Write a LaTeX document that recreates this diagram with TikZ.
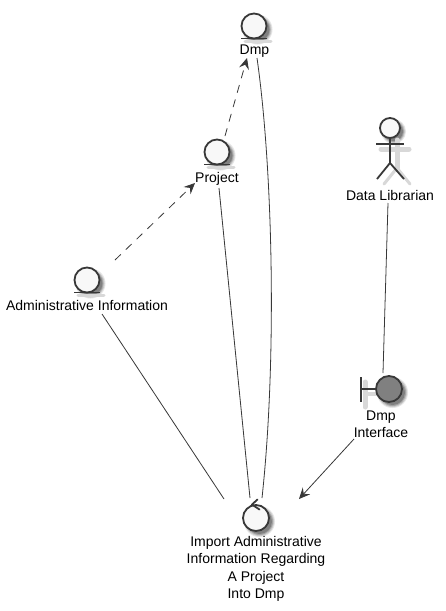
\documentclass[tikz,border=0pt]{standalone}
\usepackage{fontspec}
\setmainfont{Liberation Sans}
\usetikzlibrary{arrows.meta}
\definecolor{ink}{HTML}{383838}
\definecolor{paper}{HTML}{F8F8F8}
\definecolor{bluntgray}{HTML}{808080}
\definecolor{sha}{HTML}{E6E6E6}
\definecolor{shb}{HTML}{C8C8C8}
\definecolor{shc}{HTML}{A4A4A4}
\definecolor{shd}{HTML}{808080}
\definecolor{shl}{HTML}{D8D8D8}
\tikzset{
  x=1pt,y=-1pt,
  lbl/.style={font=\fontsize{14}{17.3}\selectfont,align=center,inner sep=0pt,text=black},
  icon/.style={draw=ink,line width=1.8pt,fill=paper,circle,inner sep=0pt},
  bar/.style={draw=ink,line width=1.8pt},
  link/.style={draw=ink,line width=.8pt},
  dep/.style={link,dash pattern=on 8pt off 7pt},
  tip/.style={-{Stealth[length=11pt,width=10pt,inset=4pt,color=ink]}},
  softa/.style={line cap=round,draw=shl},
  softd/.style={circle,inner sep=0pt,draw=none},
}
% #1 name, #2 x, #3 y, #4 diameter of the icon
\newcommand{\softdisc}[4]{%
  \node[softd,fill=sha,minimum size=#4+5pt] (#1sa) at (#2+3.5,#3+3.5) {};
  \node[softd,fill=shb,minimum size=#4+3pt] (#1sb) at (#2+3.5,#3+3.5) {};
  \node[softd,fill=shc,minimum size=#4+1pt] (#1sc) at (#2+3.5,#3+3.5) {};
  \node[softd,fill=shd,minimum size=#4-1pt] (#1sd) at (#2+3.5,#3+3.5) {};
}
\newcommand{\entityicon}[3]{% name, x, y (centre)
  \softdisc{#1}{#2}{#3}{25pt}
  \draw[softa,line width=3pt] (#2-9,#3+15) -- (#2+17,#3+15);
  \node[icon,minimum size=25pt] (#1) at (#2,#3) {};
  \draw[bar] (#2-13,#3+12.5) -- (#2+13,#3+12.5);
}
\begin{document}
\begin{tikzpicture}
\useasboundingbox (0,0) rectangle (446,611);
\fill[white] (0,0) rectangle (446,611);

% entities
\entityicon{dmpI}{254}{26}
\node[lbl] (dmpL) at (254.5,51.5) {Dmp};
\entityicon{projI}{217}{152}
\node[lbl] (projL) at (217,178.5) {Project};
\entityicon{adminI}{87}{280}
\node[lbl] (adminL) at (87,305.5) {Administrative Information};

% actor
\softdisc{actorI}{390}{128}{20pt}
\draw[softa,line width=5pt] (381,149) -- (409,149);
\draw[softa,line width=5pt] (397,140) -- (397,168);
\draw[softa,line width=3pt] (397,168) -- (384,184);
\draw[softa,line width=3pt] (397,168) -- (410,184);
\draw[bar] (390,138) -- (390,163) -- (377,179);
\draw[bar] (390,163) -- (404,179);
\draw[bar] (376,144) -- (404,144);
\node[icon,minimum size=20pt] (actorI) at (390,128) {};
\node[lbl] (actorL) at (390,195.5) {Data Librarian};

% boundary
\softdisc{boundI}{389}{389}{26pt}
\draw[softa,line width=5pt] (365,382) -- (365,407);
\draw[softa,line width=4pt] (365,394) -- (378,394);
\draw[bar] (361,377) -- (361,402);
\draw[bar] (361,389) -- (377,389);
\node[icon,fill=bluntgray,minimum size=26pt] (boundI) at (389,389) {};
\node[lbl] (boundL) at (381,424) {Dmp\\Interface};

% control
\softdisc{ctrlI}{256}{518}{26pt}
\node[icon,minimum size=26pt] (ctrlI) at (256,518) {};
\draw[bar,line join=round,line cap=round] (257.5,499.5) -- (252,504.5) -- (259.5,509.5);
\node[lbl] (ctrlL) at (256,569) {Import Administrative\\Information Regarding\\A Project\\Into Dmp};

% connector ends
\coordinate (a1) at (225,136); \coordinate (a2) at (247,58);
\coordinate (b1) at (115,260); \coordinate (b2) at (195,183);
\coordinate (c1) at (257,58);  \coordinate (c2) at (262,498);
\coordinate (d1) at (219,188); \coordinate (d2) at (250,498);
\coordinate (e1) at (102,314); \coordinate (e2) at (224,499);
\coordinate (f1) at (388,203); \coordinate (f2) at (383,373);
\coordinate (g1) at (354,439); \coordinate (g2) at (299,499);

\draw[dep,tip] (a1) -- (a2);
\draw[dep,tip] (b1) -- (b2);
\draw[link] (c1) .. controls (273,170) and (277,360) .. (c2);
\draw[link] (d1) -- (d2);
\draw[link] (e1) -- (e2);
\draw[link] (f1) -- (f2);
\draw[link,tip] (g1) -- (g2);
\end{tikzpicture}
\end{document}
